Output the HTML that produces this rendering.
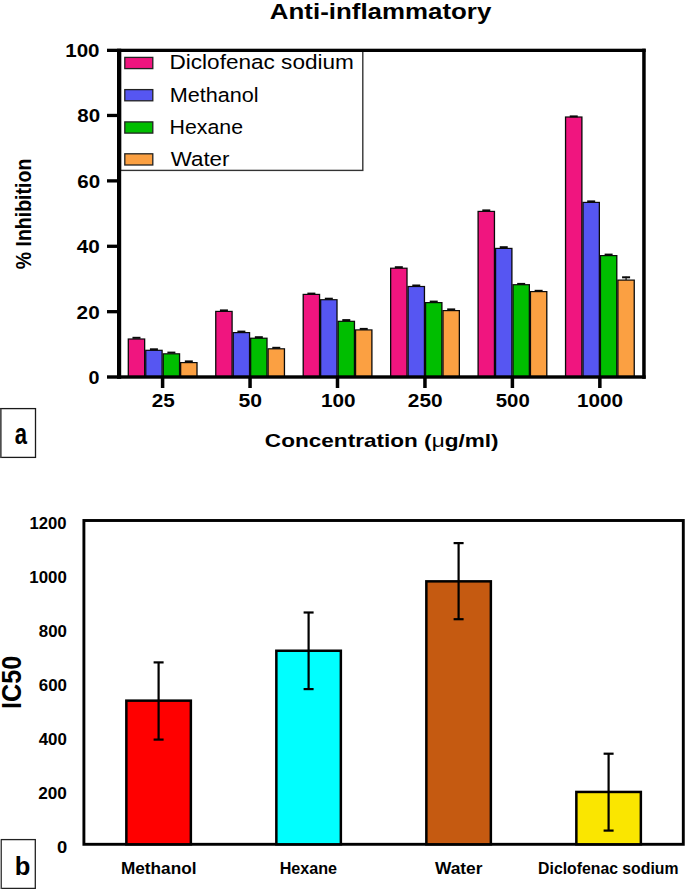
<!DOCTYPE html>
<html><head><meta charset="utf-8"><title>Anti-inflammatory</title>
<style>html,body{margin:0;padding:0;background:#fff;}svg{display:block;}</style></head>
<body><svg width="685" height="889" viewBox="0 0 685 889">
<rect width="685" height="889" fill="#fff"/>
<rect x="127.65" y="338.40" width="17.65" height="39.10" fill="#0a0a0a"/>
<rect x="128.95" y="339.60" width="15.05" height="37.90" fill="#F0157F"/>
<rect x="132.47" y="336.80" width="8" height="2.0" fill="#0a0a0a"/>
<rect x="145.10" y="349.70" width="17.65" height="27.80" fill="#0a0a0a"/>
<rect x="146.40" y="350.90" width="15.05" height="26.60" fill="#5656F2"/>
<rect x="149.92" y="348.30" width="8" height="2.0" fill="#0a0a0a"/>
<rect x="162.55" y="353.20" width="17.65" height="24.30" fill="#0a0a0a"/>
<rect x="163.85" y="354.40" width="15.05" height="23.10" fill="#00BE00"/>
<rect x="167.38" y="351.60" width="8" height="2.0" fill="#0a0a0a"/>
<rect x="180.00" y="362.00" width="17.65" height="15.50" fill="#0a0a0a"/>
<rect x="181.30" y="363.20" width="15.05" height="14.30" fill="#FBA042"/>
<rect x="184.82" y="360.40" width="8" height="2.0" fill="#0a0a0a"/>
<rect x="215.10" y="310.80" width="17.65" height="66.70" fill="#0a0a0a"/>
<rect x="216.40" y="312.00" width="15.05" height="65.50" fill="#F0157F"/>
<rect x="219.93" y="309.40" width="8" height="2.0" fill="#0a0a0a"/>
<rect x="232.55" y="332.00" width="17.65" height="45.50" fill="#0a0a0a"/>
<rect x="233.85" y="333.20" width="15.05" height="44.30" fill="#5656F2"/>
<rect x="237.38" y="330.60" width="8" height="2.0" fill="#0a0a0a"/>
<rect x="250.00" y="337.60" width="17.65" height="39.90" fill="#0a0a0a"/>
<rect x="251.30" y="338.80" width="15.05" height="38.70" fill="#00BE00"/>
<rect x="254.83" y="336.20" width="8" height="2.0" fill="#0a0a0a"/>
<rect x="267.45" y="348.20" width="17.65" height="29.30" fill="#0a0a0a"/>
<rect x="268.75" y="349.40" width="15.05" height="28.10" fill="#FBA042"/>
<rect x="272.28" y="346.80" width="8" height="2.0" fill="#0a0a0a"/>
<rect x="302.55" y="293.80" width="17.65" height="83.70" fill="#0a0a0a"/>
<rect x="303.85" y="295.00" width="15.05" height="82.50" fill="#F0157F"/>
<rect x="307.38" y="292.60" width="8" height="2.0" fill="#0a0a0a"/>
<rect x="320.00" y="299.10" width="17.65" height="78.40" fill="#0a0a0a"/>
<rect x="321.30" y="300.30" width="15.05" height="77.20" fill="#5656F2"/>
<rect x="324.83" y="297.70" width="8" height="2.0" fill="#0a0a0a"/>
<rect x="337.45" y="320.70" width="17.65" height="56.80" fill="#0a0a0a"/>
<rect x="338.75" y="321.90" width="15.05" height="55.60" fill="#00BE00"/>
<rect x="342.28" y="319.10" width="8" height="2.0" fill="#0a0a0a"/>
<rect x="354.90" y="329.30" width="17.65" height="48.20" fill="#0a0a0a"/>
<rect x="356.20" y="330.50" width="15.05" height="47.00" fill="#FBA042"/>
<rect x="359.73" y="327.90" width="8" height="2.0" fill="#0a0a0a"/>
<rect x="390.00" y="267.60" width="17.65" height="109.90" fill="#0a0a0a"/>
<rect x="391.30" y="268.80" width="15.05" height="108.70" fill="#F0157F"/>
<rect x="394.83" y="266.20" width="8" height="2.0" fill="#0a0a0a"/>
<rect x="407.45" y="285.90" width="17.65" height="91.60" fill="#0a0a0a"/>
<rect x="408.75" y="287.10" width="15.05" height="90.40" fill="#5656F2"/>
<rect x="412.28" y="284.50" width="8" height="2.0" fill="#0a0a0a"/>
<rect x="424.90" y="302.00" width="17.65" height="75.50" fill="#0a0a0a"/>
<rect x="426.20" y="303.20" width="15.05" height="74.30" fill="#00BE00"/>
<rect x="429.73" y="300.60" width="8" height="2.0" fill="#0a0a0a"/>
<rect x="442.35" y="310.00" width="17.65" height="67.50" fill="#0a0a0a"/>
<rect x="443.65" y="311.20" width="15.05" height="66.30" fill="#FBA042"/>
<rect x="447.18" y="308.40" width="8" height="2.0" fill="#0a0a0a"/>
<rect x="477.45" y="210.80" width="17.65" height="166.70" fill="#0a0a0a"/>
<rect x="478.75" y="212.00" width="15.05" height="165.50" fill="#F0157F"/>
<rect x="482.28" y="209.40" width="8" height="2.0" fill="#0a0a0a"/>
<rect x="494.90" y="247.80" width="17.65" height="129.70" fill="#0a0a0a"/>
<rect x="496.20" y="249.00" width="15.05" height="128.50" fill="#5656F2"/>
<rect x="499.73" y="246.20" width="8" height="2.0" fill="#0a0a0a"/>
<rect x="512.35" y="284.10" width="17.65" height="93.40" fill="#0a0a0a"/>
<rect x="513.65" y="285.30" width="15.05" height="92.20" fill="#00BE00"/>
<rect x="517.18" y="282.90" width="8" height="2.0" fill="#0a0a0a"/>
<rect x="529.80" y="291.00" width="17.65" height="86.50" fill="#0a0a0a"/>
<rect x="531.10" y="292.20" width="15.05" height="85.30" fill="#FBA042"/>
<rect x="534.63" y="289.80" width="8" height="2.0" fill="#0a0a0a"/>
<rect x="564.90" y="116.40" width="17.65" height="261.10" fill="#0a0a0a"/>
<rect x="566.20" y="117.60" width="15.05" height="259.90" fill="#F0157F"/>
<rect x="569.73" y="115.40" width="8" height="2.0" fill="#0a0a0a"/>
<rect x="582.35" y="201.80" width="17.65" height="175.70" fill="#0a0a0a"/>
<rect x="583.65" y="203.00" width="15.05" height="174.50" fill="#5656F2"/>
<rect x="587.18" y="200.40" width="8" height="2.0" fill="#0a0a0a"/>
<rect x="599.80" y="255.00" width="17.65" height="122.50" fill="#0a0a0a"/>
<rect x="601.10" y="256.20" width="15.05" height="121.30" fill="#00BE00"/>
<rect x="604.62" y="253.60" width="8" height="2.0" fill="#0a0a0a"/>
<rect x="617.25" y="279.50" width="17.65" height="98.00" fill="#0a0a0a"/>
<rect x="618.55" y="280.70" width="15.05" height="96.80" fill="#FBA042"/>
<rect x="622.08" y="276.30" width="8" height="2.0" fill="#0a0a0a"/>
<rect x="625.48" y="276.70" width="1.2" height="3.30" fill="#111"/>
<rect x="120.5" y="51" width="242.3" height="119.4" fill="none" stroke="#333" stroke-width="1.4"/>
<rect x="124.8" y="57.40" width="28" height="11.2" fill="#F0157F" stroke="#222" stroke-width="1.3"/>
<rect x="124.8" y="89.60" width="28" height="11.2" fill="#5656F2" stroke="#222" stroke-width="1.3"/>
<rect x="124.8" y="121.90" width="28" height="11.2" fill="#00BE00" stroke="#222" stroke-width="1.3"/>
<rect x="124.8" y="153.80" width="28" height="11.2" fill="#FBA042" stroke="#222" stroke-width="1.3"/>
<rect x="117" y="48.7" width="4.2" height="330.1" fill="#000"/>
<rect x="107" y="48.7" width="538.7" height="3.3" fill="#000"/>
<rect x="642.2" y="48.7" width="3.5" height="330.1" fill="#000"/>
<rect x="107" y="375.3" width="538.7" height="3.4" fill="#000"/>
<rect x="107" y="310.04" width="12" height="3.3" fill="#000"/>
<rect x="107" y="244.63" width="12" height="3.3" fill="#000"/>
<rect x="107" y="179.22" width="12" height="3.3" fill="#000"/>
<rect x="107" y="113.81" width="12" height="3.3" fill="#000"/>
<rect x="160.85" y="377" width="3.5" height="11" fill="#000"/>
<rect x="248.30" y="377" width="3.5" height="11" fill="#000"/>
<rect x="335.75" y="377" width="3.5" height="11" fill="#000"/>
<rect x="423.20" y="377" width="3.5" height="11" fill="#000"/>
<rect x="510.65" y="377" width="3.5" height="11" fill="#000"/>
<rect x="598.10" y="377" width="3.5" height="11" fill="#000"/>
<rect x="0.65" y="408.6" width="34.85" height="48.8" fill="none" stroke="#1a1a1a" stroke-width="1.3"/>
<rect x="0" y="408.6" width="1.5" height="49.4" fill="#4d4d4d"/>
<rect x="83.9" y="520.5" width="599.4" height="323.8" fill="none" stroke="#000" stroke-width="2.9"/>
<rect x="126.35" y="700.65" width="64.50" height="143.65" fill="#FF0000" stroke="#000" stroke-width="2.5"/>
<rect x="157.50" y="662.30" width="2.2" height="77.20" fill="#000"/>
<rect x="153.60" y="661.30" width="10" height="2.2" fill="#000"/>
<rect x="153.60" y="738.50" width="10" height="2.2" fill="#000"/>
<rect x="276.35" y="650.75" width="64.50" height="193.55" fill="#00FFFF" stroke="#000" stroke-width="2.5"/>
<rect x="307.50" y="612.40" width="2.2" height="76.60" fill="#000"/>
<rect x="303.60" y="611.40" width="10" height="2.2" fill="#000"/>
<rect x="303.60" y="688.00" width="10" height="2.2" fill="#000"/>
<rect x="426.35" y="581.35" width="64.50" height="262.95" fill="#C55A11" stroke="#000" stroke-width="2.5"/>
<rect x="457.50" y="543.00" width="2.2" height="76.10" fill="#000"/>
<rect x="453.60" y="542.00" width="10" height="2.2" fill="#000"/>
<rect x="453.60" y="618.10" width="10" height="2.2" fill="#000"/>
<rect x="576.35" y="791.95" width="64.50" height="52.35" fill="#FAE600" stroke="#000" stroke-width="2.5"/>
<rect x="607.50" y="753.60" width="2.2" height="76.90" fill="#000"/>
<rect x="603.60" y="752.60" width="10" height="2.2" fill="#000"/>
<rect x="603.60" y="829.50" width="10" height="2.2" fill="#000"/>
<rect x="1.35" y="839.6" width="33.95" height="48.8" fill="none" stroke="#222" stroke-width="1.3"/>
<rect x="0.7" y="840.2" width="1.3" height="49" fill="#444"/>
<rect x="0" y="839.6" width="0.7" height="49.4" fill="#b0b0b0"/>
<text id="title" x="269.885" y="18.650" font-family="Liberation Sans, sans-serif" font-weight="bold" font-size="22.341" textLength="221.441" lengthAdjust="spacingAndGlyphs">Anti-inflammatory</text>
<text id="ylab_a" transform="translate(31.327,269.325) rotate(-90)" x="0" y="0" font-family="Liberation Sans, sans-serif" font-weight="bold" font-size="21.992" textLength="110.638" lengthAdjust="spacingAndGlyphs">% Inhibition</text>
<text id="ya100" x="65.227" y="56.900" font-family="Liberation Sans, sans-serif" font-weight="bold" font-size="17.700" textLength="34.310" lengthAdjust="spacingAndGlyphs">100</text>
<text id="ya80" x="77.364" y="122.300" font-family="Liberation Sans, sans-serif" font-weight="bold" font-size="17.700" textLength="22.851" lengthAdjust="spacingAndGlyphs">80</text>
<text id="ya60" x="77.242" y="187.800" font-family="Liberation Sans, sans-serif" font-weight="bold" font-size="17.700" textLength="22.860" lengthAdjust="spacingAndGlyphs">60</text>
<text id="ya40" x="76.695" y="253.300" font-family="Liberation Sans, sans-serif" font-weight="bold" font-size="17.700" textLength="23.059" lengthAdjust="spacingAndGlyphs">40</text>
<text id="ya20" x="76.639" y="318.900" font-family="Liberation Sans, sans-serif" font-weight="bold" font-size="17.700" textLength="23.099" lengthAdjust="spacingAndGlyphs">20</text>
<text id="ya0" x="88.509" y="384.100" font-family="Liberation Sans, sans-serif" font-weight="bold" font-size="17.700" textLength="10.987" lengthAdjust="spacingAndGlyphs">0</text>
<text id="xa25" x="151.675" y="407.200" font-family="Liberation Sans, sans-serif" font-weight="bold" font-size="17.700" textLength="23.023" lengthAdjust="spacingAndGlyphs">25</text>
<text id="xa50" x="238.408" y="407.200" font-family="Liberation Sans, sans-serif" font-weight="bold" font-size="17.700" textLength="23.553" lengthAdjust="spacingAndGlyphs">50</text>
<text id="xa100" x="320.961" y="407.200" font-family="Liberation Sans, sans-serif" font-weight="bold" font-size="17.700" textLength="34.572" lengthAdjust="spacingAndGlyphs">100</text>
<text id="xa250" x="407.825" y="407.200" font-family="Liberation Sans, sans-serif" font-weight="bold" font-size="17.700" textLength="34.749" lengthAdjust="spacingAndGlyphs">250</text>
<text id="xa500" x="495.748" y="407.200" font-family="Liberation Sans, sans-serif" font-weight="bold" font-size="17.700" textLength="33.978" lengthAdjust="spacingAndGlyphs">500</text>
<text id="xa1000" x="577.024" y="407.200" font-family="Liberation Sans, sans-serif" font-weight="bold" font-size="17.700" textLength="46.091" lengthAdjust="spacingAndGlyphs">1000</text>
<text id="xtitle" x="264.885" y="447.350" font-family="Liberation Sans, sans-serif" font-weight="bold" font-size="18.833" textLength="233.697" lengthAdjust="spacingAndGlyphs">Concentration (<tspan font-weight='normal'>μ</tspan>g/ml)</text>
<text id="leg1" x="169.500" y="69.400" font-family="Liberation Sans, sans-serif" font-weight="normal" font-size="19.300" textLength="184.349" lengthAdjust="spacingAndGlyphs">Diclofenac sodium</text>
<text id="leg2" x="169.677" y="101.800" font-family="Liberation Sans, sans-serif" font-weight="normal" font-size="19.300" textLength="88.966" lengthAdjust="spacingAndGlyphs">Methanol</text>
<text id="leg3" x="169.519" y="133.700" font-family="Liberation Sans, sans-serif" font-weight="normal" font-size="19.300" textLength="73.499" lengthAdjust="spacingAndGlyphs">Hexane</text>
<text id="leg4" x="170.722" y="165.500" font-family="Liberation Sans, sans-serif" font-weight="normal" font-size="19.300" textLength="58.739" lengthAdjust="spacingAndGlyphs">Water</text>
<text id="lab_a" x="14.639" y="444.200" font-family="Liberation Sans, sans-serif" font-weight="bold" font-size="28.714" textLength="12.258" lengthAdjust="spacingAndGlyphs">a</text>
<text id="ylab_b" transform="translate(20.737,708.915) rotate(-90)" x="0" y="0" font-family="Liberation Sans, sans-serif" font-weight="bold" font-size="28.524" textLength="53.078" lengthAdjust="spacingAndGlyphs">IC50</text>
<text id="yb1200" x="29.516" y="529.400" font-family="Liberation Sans, sans-serif" font-weight="bold" font-size="16.200" textLength="37.031" lengthAdjust="spacingAndGlyphs">1200</text>
<text id="yb1000" x="29.387" y="583.400" font-family="Liberation Sans, sans-serif" font-weight="bold" font-size="16.200" textLength="37.425" lengthAdjust="spacingAndGlyphs">1000</text>
<text id="yb800" x="38.792" y="637.400" font-family="Liberation Sans, sans-serif" font-weight="bold" font-size="16.200" textLength="28.101" lengthAdjust="spacingAndGlyphs">800</text>
<text id="yb600" x="38.769" y="691.400" font-family="Liberation Sans, sans-serif" font-weight="bold" font-size="16.200" textLength="28.164" lengthAdjust="spacingAndGlyphs">600</text>
<text id="yb400" x="38.683" y="745.400" font-family="Liberation Sans, sans-serif" font-weight="bold" font-size="16.200" textLength="28.186" lengthAdjust="spacingAndGlyphs">400</text>
<text id="yb200" x="38.241" y="799.400" font-family="Liberation Sans, sans-serif" font-weight="bold" font-size="16.200" textLength="28.595" lengthAdjust="spacingAndGlyphs">200</text>
<text id="yb0" x="57.038" y="853.400" font-family="Liberation Sans, sans-serif" font-weight="bold" font-size="16.200" textLength="10.240" lengthAdjust="spacingAndGlyphs">0</text>
<text id="xb1" x="120.957" y="873.600" font-family="Liberation Sans, sans-serif" font-weight="bold" font-size="16.800" textLength="75.477" lengthAdjust="spacingAndGlyphs">Methanol</text>
<text id="xb2" x="279.641" y="873.600" font-family="Liberation Sans, sans-serif" font-weight="bold" font-size="16.800" textLength="57.424" lengthAdjust="spacingAndGlyphs">Hexane</text>
<text id="xb3" x="434.908" y="873.600" font-family="Liberation Sans, sans-serif" font-weight="bold" font-size="16.800" textLength="47.562" lengthAdjust="spacingAndGlyphs">Water</text>
<text id="xb4" x="538.104" y="873.600" font-family="Liberation Sans, sans-serif" font-weight="bold" font-size="16.800" textLength="140.378" lengthAdjust="spacingAndGlyphs">Diclofenac sodium</text>
<text id="lab_b" x="14.768" y="875.150" font-family="Liberation Sans, sans-serif" font-weight="bold" font-size="26.708" textLength="15.621" lengthAdjust="spacingAndGlyphs">b</text>
</svg></body></html>
